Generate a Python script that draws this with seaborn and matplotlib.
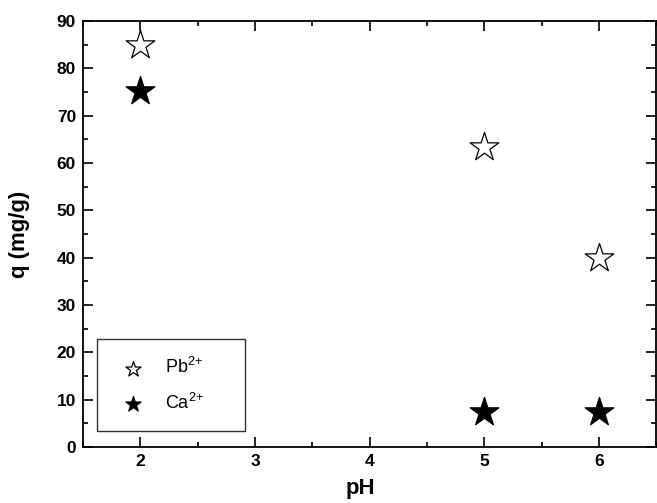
import matplotlib
matplotlib.use("Agg")
import matplotlib.pyplot as plt
import seaborn as sns
import pandas as pd
from matplotlib.ticker import MultipleLocator

ph_pb = [2, 5, 6]
q_pb = [85.0, 63.5, 40.0]
ph_ca = [2, 5, 6]
q_ca = [75.3, 7.3, 7.3]
labels = ["Pb$^{2{+}}$", "Ca$^{2{+}}$"]

sns.set_theme(style="ticks")
plt.rcParams['font.family'] = ['Liberation Sans', 'DejaVu Sans']
plt.rcParams['mathtext.fontset'] = 'custom'
plt.rcParams['mathtext.rm'] = 'Liberation Sans'
plt.rcParams['mathtext.it'] = 'Liberation Sans'
plt.rcParams['mathtext.bf'] = 'Liberation Sans:bold'
plt.rcParams['text.color'] = 'black'
plt.rcParams['axes.labelcolor'] = 'black'
plt.rcParams['xtick.labelcolor'] = 'black'
plt.rcParams['ytick.labelcolor'] = 'black'

fig = plt.figure(figsize=(6.57, 5.03), dpi=100)
ax = fig.add_axes([0.1263, 0.1113, 0.8727, 0.8467])

df_pb = pd.DataFrame({"pH": ph_pb, "q": q_pb})
df_ca = pd.DataFrame({"pH": ph_ca, "q": q_ca})

sns.scatterplot(data=df_pb, x="pH", y="q", ax=ax, marker="*", s=470,
                color="white", edgecolor="black", linewidth=0.9, label=labels[0], zorder=3)
sns.scatterplot(data=df_ca, x="pH", y="q", ax=ax, marker="*", s=470,
                color="black", edgecolor="black", linewidth=0.9, label=labels[1], zorder=3)

ax.set_xlim(1.5, 6.5)
ax.set_ylim(0, 90)
ax.xaxis.set_minor_locator(MultipleLocator(0.5))
ax.yaxis.set_major_locator(MultipleLocator(10))
ax.yaxis.set_minor_locator(MultipleLocator(5))
ax.set_xticks([2, 3, 4, 5, 6])
ax.tick_params(which="both", direction="in", top=True, right=True, width=1.2,
               color="black", labelcolor="black")
ax.tick_params(which="major", length=7)
ax.tick_params(which="minor", length=3.5)
ax.tick_params(labelsize=12.5, pad=5)
for lab in ax.get_xticklabels() + ax.get_yticklabels():
    lab.set_fontweight("bold")
for sp in ax.spines.values():
    sp.set_linewidth(1.3)
    sp.set_color("black")

ax.set_xlabel("pH", fontsize=16, fontweight="bold", color="black")
ax.xaxis.set_label_coords(0.484, -0.072)
ax.set_ylabel("q (mg/g)", fontsize=16, fontweight="bold", color="black")
ax.yaxis.set_label_coords(-0.092, 0.5)

leg = ax.legend(loc="lower left", bbox_to_anchor=(0.024, 0.038, 0.258, 0.2),
                mode="expand", markerscale=0.53,
                fontsize=13, frameon=True, fancybox=False, borderpad=1.0,
                labelspacing=0.85, handletextpad=0.8, borderaxespad=0,
                handlelength=2.0)
leg.get_frame().set_edgecolor("#333333")
leg.get_frame().set_linewidth(1.0)
leg.get_frame().set_alpha(1)
for t in leg.get_texts():
    t.set_color("black")

fig.savefig("out.png", dpi=100)
